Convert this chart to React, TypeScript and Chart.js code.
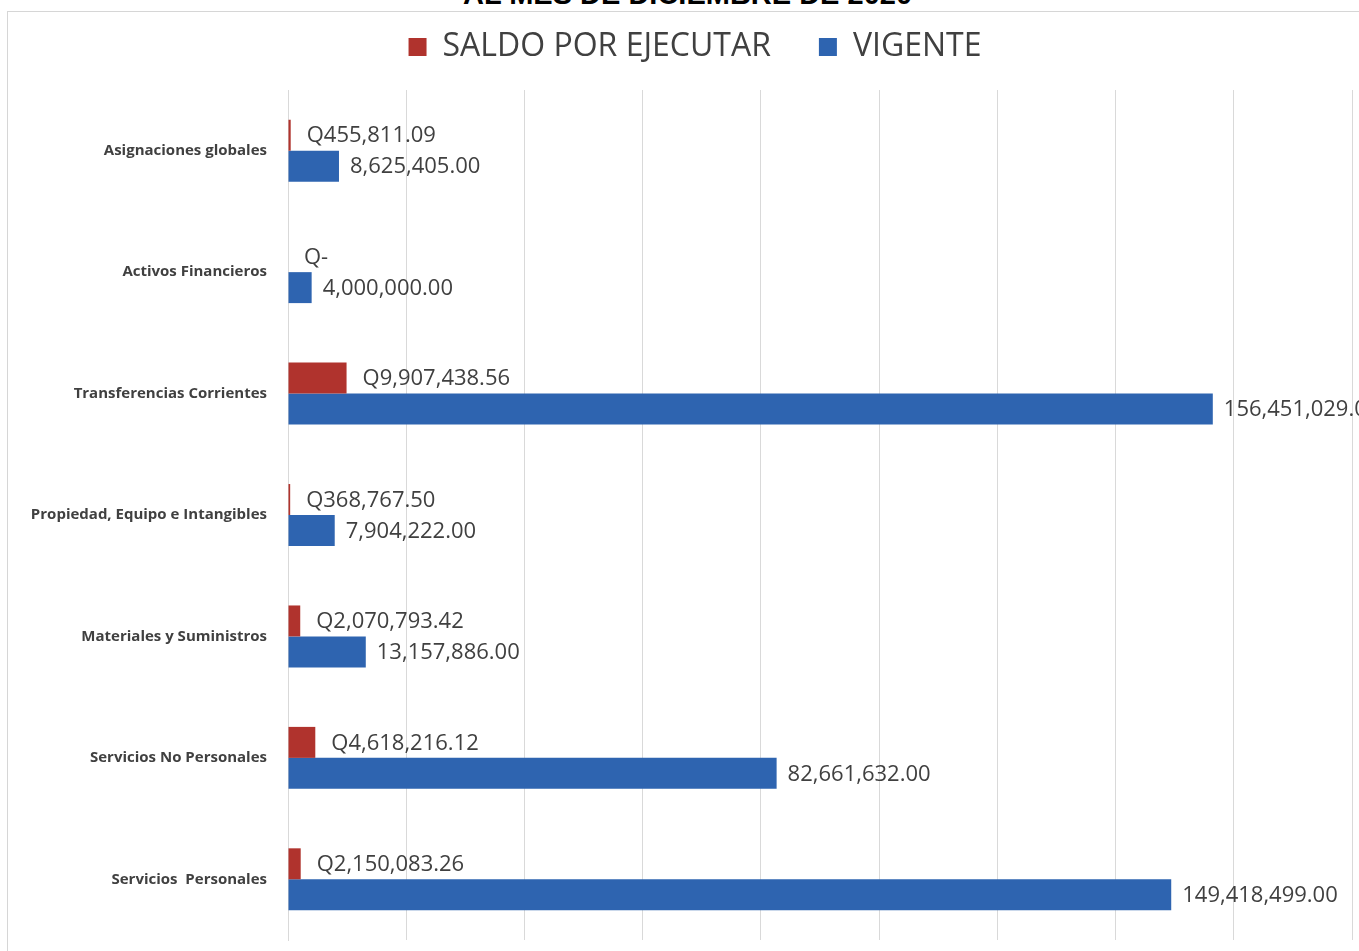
import React, { useEffect, useRef } from 'react';
import { Chart, registerables } from 'chart.js';

Chart.register(...registerables);

const categories = [
  'Asignaciones globales',
  'Activos Financieros',
  'Transferencias Corrientes',
  'Propiedad, Equipo e Intangibles',
  'Materiales y Suministros',
  'Servicios No Personales',
  'Servicios  Personales',
];
const saldoPorEjecutar = [455811.09, 0, 9907438.56, 368767.5, 2070793.42, 4618216.12, 2150083.26];
const vigente = [8625405, 4000000, 156451029, 7904222, 13157886, 82661632, 149418499];
const seriesNames = ['SALDO POR EJECUTAR', 'VIGENTE'];
const titleText = 'AL MES DE DICIEMBRE DE 2020';
const xMax = 180000000;
const xStep = 20000000;

const RED = '#b0332d';
const BLUE = '#2e64b0';
const CANVAS_TOP = -17;
const CANVAS_W = 1359;
const CANVAS_H = 951 - CANVAS_TOP;

const fmt = (v: number) =>
  v.toLocaleString('en-US', { minimumFractionDigits: 2, maximumFractionDigits: 2 });

const valueLabels = {
  id: 'valueLabels',
  afterDatasetsDraw(chart: any) {
    const ctx = chart.ctx;
    ctx.save();
    ctx.font = '22px "Open Sans"';
    ctx.fillStyle = '#404040';
    ctx.textBaseline = 'middle';
    ctx.textAlign = 'left';
    chart.data.datasets.forEach((ds: any, i: number) => {
      const meta = chart.getDatasetMeta(i);
      meta.data.forEach((el: any, j: number) => {
        const v = ds.data[j] as number;
        const text = i === 0 ? (v === 0 ? 'Q-' : 'Q' + fmt(v)) : fmt(v);
        ctx.fillText(text, el.x + (i === 0 ? 16 : 11), el.y + 1);
      });
    });
    ctx.restore();
  },
};

const legendLayout = {
  id: 'legendLayout',
  beforeInit(chart: any) {
    const legend = chart.legend;
    if (!legend) return;
    const originalFit = legend.fit;
    legend.fit = function fit() {
      originalFit.bind(legend)();
      this.height = 107;
    };
  },
  afterLayout(chart: any) {
    const legend = chart.legend;
    if (!legend) return;
    legend.left = 38;
    legend.width = legend.right - legend.left;
  },
};

export default function App() {
  const canvasRef = useRef<HTMLCanvasElement | null>(null);

  useEffect(() => {
    if (!canvasRef.current) return;
    const chart = new Chart(canvasRef.current, {
      type: 'bar',
      data: {
        labels: categories,
        datasets: [
          {
            label: seriesNames[0],
            data: saldoPorEjecutar,
            backgroundColor: RED,
            categoryPercentage: 0.51,
            barPercentage: 1,
          },
          {
            label: seriesNames[1],
            data: vigente,
            backgroundColor: BLUE,
            categoryPercentage: 0.51,
            barPercentage: 1,
          },
        ],
      },
      options: {
        indexAxis: 'y',
        responsive: false,
        animation: false,
        layout: { padding: { left: 0, right: 7, top: 0, bottom: 11 } },
        plugins: {
          legend: {
            position: 'top',
            labels: {
              boxWidth: 18,
              boxHeight: 18,
              padding: 48,
              color: '#404040',
              font: { family: '"Open Sans"', size: 32 },
            },
          },
          tooltip: { enabled: false },
        },
        scales: {
          x: {
            min: 0,
            max: xMax,
            ticks: { display: false, stepSize: xStep },
            grid: { color: '#d9d9d9', lineWidth: 1, drawTicks: false },
            border: { display: false },
            afterFit: (s: any) => {
              s.height = 0;
              s.paddingLeft = 0;
              s.paddingRight = 0;
            },
          },
          y: {
            grid: { display: false, drawTicks: false },
            border: { display: true, color: '#d9d9d9' },
            ticks: {
              color: '#404040',
              padding: 21,
              font: { family: '"Open Sans"', size: 15, weight: 'bold' },
            },
            afterFit: (s: any) => {
              s.width = 288;
              s.paddingTop = 0;
              s.paddingBottom = 0;
            },
          },
        },
      },
      plugins: [valueLabels, legendLayout],
    } as any);
    return () => chart.destroy();
  }, []);

  return (
    <div
      style={{
        position: 'fixed',
        left: 0,
        top: 0,
        width: CANVAS_W,
        height: 951,
        overflow: 'hidden',
        background: '#ffffff',
      }}
    >
      <div
        style={{
          position: 'absolute',
          left: 0,
          width: CANVAS_W,
          top: -20,
          textAlign: 'center',
          fontFamily: '"Liberation Sans", Arial, sans-serif',
          fontWeight: 'bold',
          fontSize: 29,
          lineHeight: '29px',
          color: '#000',
          paddingLeft: 16,
          boxSizing: 'border-box',
        }}
      >
        {titleText}
      </div>
      <div
        style={{
          position: 'absolute',
          left: 7,
          top: 11,
          width: 1360,
          height: 960,
          borderTop: '1px solid #d6d6d6',
          borderLeft: '1px solid #d6d6d6',
        }}
      />
      <canvas
        ref={canvasRef}
        width={CANVAS_W}
        height={CANVAS_H}
        style={{ position: 'absolute', left: 0, top: CANVAS_TOP, width: CANVAS_W, height: CANVAS_H }}
      />
    </div>
  );
}
